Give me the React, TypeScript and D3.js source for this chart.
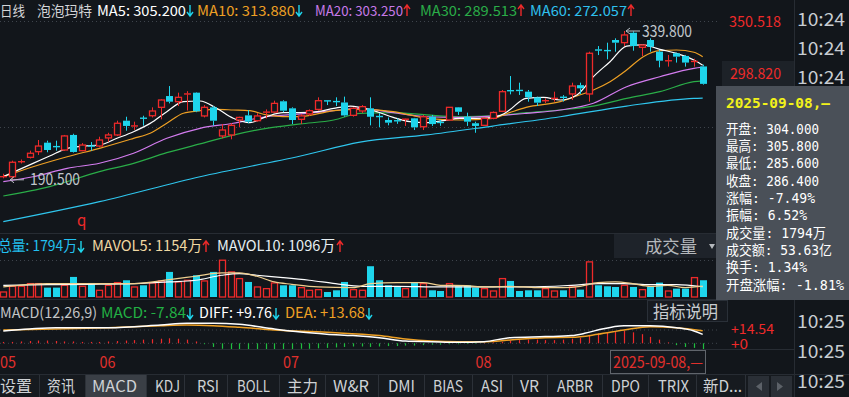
import React from 'react';
import * as d3 from 'd3';

const BG = '#12161b';
const RED = '#ee2a2a';
const CYAN = '#1ed5ec';
const GRID = '#3e444c';
const SEP = '#272c33';

// daily candles, 2025-05-29 .. 2025-09-08
const opens = [192.3, 192.6, 207.5, 212.2, 217.9, 227.0, 223.5, 219.6, 234.8, 218.9, 224.0, 223.6, 231.8, 234.8, 249.2, 243.5, 252.0, 254.2, 262.7, 274.1, 268.4, 275.8, 277.5, 254.0, 262.7, 233.8, 234.8, 249.9, 254.6, 249.2, 257.5, 257.9, 268.8, 261.7, 250.6, 256.0, 260.6, 269.4, 269.0, 267.6, 254.6, 259.0, 261.7, 253.8, 249.9, 249.6, 249.9, 251.6, 243.1, 253.2, 247.8, 249.9, 262.7, 253.2, 246.6, 244.5, 251.6, 258.7, 280.0, 280.5, 278.5, 272.8, 269.0, 271.3, 273.3, 276.2, 285.1, 276.2, 321.0, 320.5, 330.7, 328.0, 338.0, 323.3, 330.7, 318.9, 309.3, 317.3, 314.6, 308.5, 304.0];
const highs = [195.6, 208.8, 210.0, 218.9, 229.7, 229.0, 229.0, 234.8, 236.0, 226.6, 227.6, 233.0, 237.0, 249.2, 253.2, 248.2, 254.2, 262.7, 270.8, 284.2, 277.5, 279.0, 278.0, 265.0, 264.0, 245.8, 246.6, 253.2, 259.9, 256.7, 260.6, 269.4, 269.8, 262.7, 256.0, 260.6, 272.8, 269.6, 272.8, 273.5, 262.7, 265.0, 272.8, 256.7, 252.5, 251.5, 251.8, 252.0, 255.0, 255.0, 250.0, 263.0, 263.0, 257.3, 248.2, 252.0, 258.5, 280.2, 294.3, 287.6, 280.2, 273.5, 271.8, 278.5, 275.0, 287.6, 287.6, 318.9, 324.6, 328.0, 332.4, 339.8, 339.5, 326.0, 332.4, 320.6, 315.6, 318.0, 315.6, 311.8, 305.8];
const lows = [191.0, 190.5, 206.0, 211.0, 214.6, 217.3, 218.9, 218.6, 217.0, 218.4, 218.9, 222.3, 227.9, 233.8, 239.1, 239.8, 244.2, 252.5, 250.6, 266.7, 264.0, 259.5, 257.8, 252.5, 244.2, 231.4, 230.4, 242.5, 246.6, 248.2, 251.5, 257.2, 257.8, 245.8, 245.8, 254.0, 259.3, 265.0, 264.0, 253.3, 253.3, 257.0, 244.5, 242.5, 244.5, 246.0, 243.9, 239.8, 239.8, 243.9, 244.0, 249.5, 255.0, 243.9, 237.0, 243.9, 250.6, 257.9, 275.8, 275.2, 268.4, 264.0, 267.0, 268.4, 268.6, 270.1, 276.2, 268.4, 315.5, 311.2, 318.9, 324.6, 319.9, 314.5, 318.9, 303.1, 303.8, 307.9, 303.8, 303.8, 285.6];
const closes = [193.0, 207.2, 208.0, 216.3, 223.6, 219.6, 222.5, 233.8, 217.6, 224.6, 223.2, 229.7, 234.8, 246.6, 243.9, 244.3, 251.4, 259.0, 270.1, 268.4, 272.8, 276.6, 258.7, 262.7, 249.2, 239.8, 244.5, 252.5, 248.2, 254.0, 258.2, 266.7, 259.3, 249.9, 254.0, 259.3, 269.4, 269.0, 268.0, 254.5, 261.7, 263.4, 253.2, 253.0, 247.2, 248.6, 251.5, 242.5, 253.2, 245.8, 247.0, 262.7, 258.2, 248.2, 243.9, 251.6, 257.5, 278.5, 279.0, 279.0, 272.8, 267.4, 269.8, 272.2, 272.4, 284.2, 281.9, 317.3, 320.2, 319.5, 328.0, 335.8, 324.6, 325.6, 323.9, 309.8, 310.2, 313.9, 307.9, 309.6, 286.4];
// volume, 万股
const volumes = [537, 1146, 1146, 1432, 1432, 1002, 1002, 1253, 2148, 1146, 1504, 716, 1253, 1539, 1790, 1074, 1253, 1504, 1718, 2685, 1611, 1790, 2327, 1718, 2685, 3938, 2685, 1969, 1611, 1074, 895, 1504, 1253, 1253, 1002, 716, 788, 537, 716, 1611, 788, 716, 3294, 1790, 1253, 1074, 895, 1539, 1432, 716, 644, 1432, 1146, 1253, 1002, 895, 644, 1969, 1718, 644, 716, 716, 895, 644, 716, 1074, 788, 3759, 1253, 1146, 1074, 1253, 1074, 788, 1074, 1539, 644, 895, 895, 2076, 1794];

// moving averages: [candle index, value]
const ma5 = [[0, 192.7], [3.4, 206.1], [5.3, 213.5], [7.3, 221.3], [9.2, 223.6], [11, 224.6], [13, 231.4], [14.9, 238.1], [16.8, 246.5], [18.7, 258.3], [20.6, 268.4], [22.5, 269.1], [24.4, 261.7], [26.3, 251.6], [28.2, 247.2], [30.1, 253.3], [32, 257.3], [34, 257.3], [35.9, 258.3], [37.8, 261.7], [39.7, 264], [40.8, 262.7], [42.7, 258.3], [44.6, 252.6], [46.5, 248.2], [48.4, 247.2], [50.3, 249.2], [52.2, 251.6], [54.1, 251.6], [56, 252.6], [57.2, 256], [57.9, 260], [59.8, 271.8], [61.8, 272.8], [63.7, 270.1], [65.6, 275.2], [67.5, 293.7], [69.4, 308.8], [71.3, 324.6], [73.2, 325.7], [75.1, 321.3], [77, 317.2], [79, 310.5], [80, 305.2]];
const ma10 = [[0, 192.6], [3.4, 202.7], [7.3, 212.8], [11, 221.3], [14.9, 231.4], [16.8, 236.5], [18.7, 246.6], [20.6, 256.7], [22.5, 259.3], [24.4, 260.6], [26.3, 260], [28.2, 259.3], [30.1, 255], [32, 253.3], [34, 253.3], [35.9, 256], [37.8, 259.3], [40.8, 260.6], [44.6, 258.3], [46.5, 255], [48.4, 251.6], [52.2, 249.9], [56, 251.6], [57.9, 257.3], [59.8, 262.7], [63.7, 268.4], [65.6, 274.1], [67.5, 280.2], [69.4, 288.6], [71.3, 300.4], [73.2, 313.8], [75.1, 319.9], [77, 320.6], [79, 318.3], [80, 313.88]];
const ma20 = [[0, 187.6], [3.4, 192.6], [7.3, 201.1], [11, 206.2], [14.9, 216.3], [18.7, 231.4], [22.5, 241.5], [26.3, 246.6], [30.1, 253.3], [34, 256], [37.8, 259.3], [40.8, 261.7], [44.6, 257.3], [48.4, 253.2], [52.2, 252.5], [56, 253.9], [59.8, 256.6], [63.7, 260], [67.5, 266.8], [71.3, 283.5], [75.1, 293.6], [79, 302.1], [80, 303.25]];
const ma30 = [[0, 173.1], [5.3, 182.6], [11, 197.7], [14.9, 206.1], [18.7, 216.9], [22.5, 225.7], [26.3, 234.7], [30.1, 241.5], [34, 245.9], [37.8, 249.9], [40.8, 256.6], [44.6, 257.3], [48.4, 255], [52.2, 253.2], [56, 254], [59.8, 257.3], [63.7, 260], [67.5, 264], [71.3, 271.8], [75.1, 278.5], [79, 288.6], [80, 289.513]];
const ma60 = [[0, 147.2], [11, 167.4], [22.5, 192.6], [34, 213.5], [40.8, 227.5], [48.4, 234.8], [56, 243.8], [63.7, 253.2], [71.3, 264], [79, 271.8], [80, 272.057]];

const mavol5 = [[0, 1074], [5, 1432], [10, 1432], [15, 1432], [19, 1862], [22, 2220], [25, 2578], [27, 2578], [29, 2220], [31, 1611], [33, 1360], [36, 1074], [40, 1002], [42, 1432], [45, 1539], [48, 1539], [50, 1253], [53, 1217], [55, 1074], [58, 1146], [61, 1002], [64, 1002], [66, 1146], [68, 1539], [70, 1611], [72, 1432], [74, 1146], [76, 1253], [78, 1002], [80, 1154]];
const mavol10 = [[0, 1253], [5, 1325], [10, 1360], [15, 1432], [19, 1611], [22, 1790], [25, 2327], [27, 2506], [29, 2327], [32, 2076], [35, 1790], [38, 1432], [41, 1146], [45, 1146], [50, 1074], [55, 1074], [60, 1074], [65, 1253], [68, 1432], [71, 1432], [74, 1325], [77, 1325], [80, 1096]];

const diff = [[0, 13.4], [3, 15.6], [6, 17.1], [12, 17.1], [18, 20], [21, 21.8], [24, 21.8], [27, 20.7], [31, 15.6], [34, 12.3], [37, 10], [40, 8.4], [43, 6.2], [46, 2.5], [49, 1.8], [52, 1.1], [55, 1.8], [58, 6.2], [62, 7.3], [65, 8.4], [66.5, 10.9], [68, 14.5], [71, 19.3], [74, 19.3], [77, 17.1], [79, 13.5], [80, 9.76]];
const dea = [[0, 14.5], [6, 15.6], [12, 17.1], [18, 19.3], [21, 20], [24, 19.3], [27, 17.5], [31, 14.5], [37, 12], [43, 8.4], [46, 4.7], [49, 2.5], [52, 1.8], [55, 1.8], [58, 3.6], [62, 6.2], [65, 6.5], [68, 9.8], [71, 14.5], [74, 18.2], [77, 17.1], [80, 13.68]];
const macdHist = [1.5, 1.5, 2, 2.5, 3, 3, 2.5, 2, 2, 1.5, 1.5, 1.5, 2, 2.5, 3, 3.5, 4, 4.5, 5, 5.5, 5, 4, 2, -1, -4, -6, -7, -8, -8, -8, -7.5, -7, -7, -6.5, -6, -6, -5.5, -5, -4.5, -4, -3.5, -3.5, -4, -3.5, -3, -3, -2.5, -2.5, -2, -1.5, -1.5, -1, -1, -0.8, -0.5, 0.5, 1, 1.5, 3, 3.5, 4, 4, 3.5, 3.5, 4, 5, 6, 9, 11, 12, 13, 13.5, 12, 10, 7, 4, 1, -2, -4, -5, -7.84];

const monthTicks = [{ i: 0, label: '05' }, { i: 11, label: '06' }, { i: 32, label: '07' }, { i: 54, label: '08' }];
const tabs = [
  { t: '设置', x: 0, w: 32 }, { t: '资讯', x: 47, w: 28 }, { t: 'MACD', x: 92, w: 45 }, { t: 'KDJ', x: 155, w: 25 },
  { t: 'RSI', x: 197, w: 22 }, { t: 'BOLL', x: 237, w: 33 }, { t: '主力', x: 287, w: 31 }, { t: 'W&R', x: 333, w: 36 },
  { t: 'DMI', x: 388, w: 27 }, { t: 'BIAS', x: 433, w: 30 }, { t: 'ASI', x: 481, w: 22 }, { t: 'VR', x: 520, w: 19 },
  { t: 'ARBR', x: 557, w: 36 }, { t: 'DPO', x: 611, w: 29 }, { t: 'TRIX', x: 658, w: 31 }, { t: '新D...', x: 703, w: 39 },
];
const tabDividers = [39, 85, 146, 184, 227, 279, 325, 378, 424, 472, 512, 547, 602, 648, 696, 745];
const tipRows = [
  { t: '开盘: 304.000', w: 93 }, { t: '最高: 305.800', w: 93 }, { t: '最低: 285.600', w: 93 }, { t: '收盘: 286.400', w: 93 },
  { t: '涨幅: -7.49%', w: 89 }, { t: '振幅: 6.52%', w: 81 }, { t: '成交量: 1794万', w: 100 }, { t: '成交额: 53.63亿', w: 106 },
  { t: '换手: 1.34%', w: 81 }, { t: '开盘涨幅: -1.81%', w: 118 },
];

const FONT = '"Noto Sans CJK SC", "Noto Sans", sans-serif';
const MONO = '"DejaVu Sans Mono", "Noto Sans CJK SC", monospace';

function Txt({ x, y, w, fill, size = 14.5, children, family = FONT, weight = 'normal', anchor = 'start' }: any) {
  return (
    <text x={x} y={y} fill={fill} fontSize={size} fontFamily={family} fontWeight={weight} textAnchor={anchor}
      textLength={w} lengthAdjust={w ? 'spacingAndGlyphs' : undefined}>{children}</text>
  );
}

// thin trend arrow like the terminal's ↑ / ↓
function Arrow({ x, y, up, color }: any) {
  const top = y - 11, bot = y;
  const cx = x + 3;
  return up
    ? <path d={`M${cx},${bot}V${top + 1}M${cx - 3},${top + 4}L${cx},${top}L${cx + 3},${top + 4}`} stroke={color} strokeWidth={1.4} fill="none" />
    : <path d={`M${cx},${top}V${bot - 1}M${cx - 3},${bot - 4}L${cx},${bot}L${cx + 3},${bot - 4}`} stroke={color} strokeWidth={1.4} fill="none" />;
}

export default function App() {
  const x = d3.scaleLinear().domain([0, 80]).range([3.3, 702.7]);
  const yP = d3.scaleLinear().domain([190.5, 339.8]).range([178.8, 31]);
  const yV = d3.scaleLinear().domain([0, 3960]).range([297, 260]);
  const yM = d3.scaleLinear().domain([0, 14.54]).range([343.3, 330]);

  const priceLine = d3.line<number[]>().x(d => x(d[0])).y(d => yP(d[1])).curve(d3.curveMonotoneX);
  const volLine = d3.line<number[]>().x(d => x(d[0])).y(d => yV(d[1])).curve(d3.curveMonotoneX);
  const macdLine = d3.line<number[]>().x(d => x(d[0])).y(d => yM(d[1])).curve(d3.curveMonotoneX);

  const maSeries = [
    { d: ma60, c: '#2fc6ee' }, { d: ma30, c: '#2aad48' }, { d: ma20, c: '#d47cf0' },
    { d: ma10, c: '#eea024' }, { d: ma5, c: '#ffffff' },
  ];

  const hiIdx = d3.maxIndex(highs);
  const loIdx = d3.minIndex(lows);
  const HY = 15.5; // header baseline

  return (
    <div>
      <style>{'body{margin:0;background:' + BG + '}'}</style>
      <svg width={849} height={397} style={{ display: 'block', background: BG }}>
        <defs>
          <clipPath id="kclip"><rect x={0} y={20} width={720} height={213} /></clipPath>
          <clipPath id="mclip"><rect x={0} y={321} width={720} height={28} /></clipPath>
        </defs>

        {/* frame lines */}
        <line x1={0} x2={795} y1={233.5} y2={233.5} stroke={SEP} />
        <line x1={0} x2={795} y1={299.5} y2={299.5} stroke={SEP} />
        <line x1={0} x2={795} y1={349.5} y2={349.5} stroke={SEP} />
        <line x1={0} x2={849} y1={374.5} y2={374.5} stroke={SEP} />
        <line x1={794.5} x2={794.5} y1={0} y2={397} stroke={SEP} />

        {/* dotted grid */}
        {[21.5, 127.5].map(v => <line key={v} x1={0} x2={720} y1={v} y2={v} stroke={GRID} strokeDasharray="1 3" />)}
        <line x1={0} x2={720} y1={260.5} y2={260.5} stroke={GRID} strokeDasharray="1 3" />
        <line x1={0} x2={720} y1={yM(14.54)} y2={yM(14.54)} stroke={GRID} strokeDasharray="1 3" />
        <line x1={0} x2={720} y1={yM(0)} y2={yM(0)} stroke={GRID} strokeDasharray="1 3" />

        {/* header */}
        <Txt x={0} y={HY} w={25} size={14} fill="#d2d4d6">日线</Txt>
        <Txt x={37} y={HY} w={55} size={14} fill="#d2d4d6">泡泡玛特</Txt>
        <Txt x={97} y={HY} w={89} size={14} fill="#ffffff">MA5: 305.200</Txt>
        <Arrow x={187} y={16} up={false} color={CYAN} />
        <Txt x={197} y={HY} w={98} size={14} fill="#eea024">MA10: 313.880</Txt>
        <Arrow x={296} y={16} up={false} color={CYAN} />
        <Txt x={315} y={HY} w={88} size={14} fill="#c87ae8">MA20: 303.250</Txt>
        <Arrow x={404} y={16} up={true} color={RED} />
        <Txt x={420} y={HY} w={97} size={14} fill="#2aad48">MA30: 289.513</Txt>
        <Arrow x={518} y={16} up={true} color={RED} />
        <Txt x={530} y={HY} w={97} size={14} fill="#2fc0ee">MA60: 272.057</Txt>
        <Arrow x={628} y={16} up={true} color={RED} />

        {/* candles + MAs */}
        <g clipPath="url(#kclip)">
          {maSeries.map((s, k) => <path key={k} d={priceLine(s.d as any) || ''} fill="none" stroke={s.c} strokeWidth={1.2} />)}
          {closes.map((c, i) => {
            const o = opens[i];
            const up = c >= o;
            const col = up ? RED : CYAN;
            const cx = Math.round(x(i)) + 0.5;
            const top = yP(Math.max(o, c));
            const bot = yP(Math.min(o, c));
            const h = bot - top;
            return (
              <g key={i}>
                <line x1={cx} x2={cx} y1={yP(highs[i])} y2={top} stroke={col} />
                <line x1={cx} x2={cx} y1={bot} y2={yP(lows[i])} stroke={col} />
                {h < 1.6
                  ? <line x1={cx - 3.5} x2={cx + 3.5} y1={(top + bot) / 2} y2={(top + bot) / 2} stroke={col} strokeWidth={1.4} />
                  : up
                    ? <rect x={cx - 3} y={top} width={6} height={h} fill={BG} stroke={col} strokeWidth={1.3} />
                    : <rect x={cx - 3.5} y={top} width={7} height={h} fill={col} />}
              </g>
            );
          })}
          <Txt x={77} y={226} fill={RED} size={15}>q</Txt>
        </g>

        {/* max / min annotations */}
        <g stroke="#b8bec4" fill="none">
          <line x1={x(hiIdx) + 2} x2={x(hiIdx) + 16} y1={yP(highs[hiIdx])} y2={yP(highs[hiIdx])} />
          <path d={`M${x(hiIdx) + 6},${yP(highs[hiIdx]) - 3}L${x(hiIdx) + 2},${yP(highs[hiIdx])}L${x(hiIdx) + 6},${yP(highs[hiIdx]) + 3}`} />
          <line x1={x(loIdx) - 2} x2={x(loIdx) + 12} y1={yP(lows[loIdx]) + 1} y2={yP(lows[loIdx]) + 1} />
          <path d={`M${x(loIdx) + 2},${yP(lows[loIdx]) - 2}L${x(loIdx) - 2},${yP(lows[loIdx]) + 1}L${x(loIdx) + 2},${yP(lows[loIdx]) + 4}`} />
        </g>
        <Txt x={x(hiIdx) + 18} y={yP(highs[hiIdx]) + 6} w={50} fill="#c0c6cc" size={16}>{highs[hiIdx].toFixed(3)}</Txt>
        <Txt x={x(loIdx) + 18} y={yP(lows[loIdx]) + 6} w={50} fill="#c0c6cc" size={16}>{lows[loIdx].toFixed(3)}</Txt>

        {/* price axis */}
        <Txt x={729} y={27} w={52} fill={RED} size={15}>350.518</Txt>
        <rect x={722} y={61} width={72} height={25} fill="#1d2228" />
        <Txt x={730} y={79} w={51} fill={RED} size={15}>298.820</Txt>

        {/* volume header */}
        <Txt x={-2} y={251} w={79} fill="#22c0f0">总量: 1794万</Txt>
        <Arrow x={78} y={252} up={false} color={CYAN} />
        <Txt x={92} y={251} w={110} fill="#f0d8a2">MAVOL5: 1154万</Txt>
        <Arrow x={203} y={252} up={true} color={RED} />
        <Txt x={217} y={251} w={118} fill="#e6eef2">MAVOL10: 1096万</Txt>
        <Arrow x={337} y={252} up={true} color={RED} />
        <rect x={614} y={234} width={106} height={24} fill="#1e232a" />
        <Txt x={645} y={253} w={52} fill="#b4b8bc" size={17}>成交量</Txt>
        <path d="M709,244L715,244L712,249Z" fill="#b4b8bc" />

        {/* volume bars */}
        {volumes.map((v, i) => {
          const up = closes[i] >= opens[i];
          const cx = Math.round(x(i)) + 0.5;
          return up
            ? <rect key={i} x={cx - 3} y={yV(v)} width={6} height={yV(0) - yV(v)} fill="none" stroke={RED} strokeWidth={1.3} />
            : <rect key={i} x={cx - 3.5} y={yV(v)} width={7} height={yV(0) - yV(v)} fill={CYAN} />;
        })}
        <path d={volLine(mavol10 as any) || ''} fill="none" stroke="#ffffff" strokeWidth={1.2} />
        <path d={volLine(mavol5 as any) || ''} fill="none" stroke="#f0d090" strokeWidth={1.2} />

        {/* macd header */}
        <Txt x={0} y={318} w={97} fill="#c2c4c6">MACD(12,26,9)</Txt>
        <Txt x={101} y={318} w={85} fill="#22b044">MACD: -7.84</Txt>
        <Arrow x={187} y={319} up={false} color={CYAN} />
        <Txt x={199} y={318} w={73} fill="#ffffff">DIFF: +9.76</Txt>
        <Arrow x={273} y={319} up={false} color={CYAN} />
        <Txt x={285} y={318} w={80} fill="#eea024">DEA: +13.68</Txt>
        <Arrow x={366} y={319} up={false} color={CYAN} />
        <rect x={647.5} y={300.5} width={80} height={21} fill="#161a20" stroke="#2a3038" />
        <Txt x={653} y={318} w={65} fill="#c8ccd0" size={17}>指标说明</Txt>

        {/* macd */}
        <g clipPath="url(#mclip)">
          {macdHist.map((v, i) => {
            const cx = Math.round(x(i)) + 0.5;
            return <line key={i} x1={cx} x2={cx} y1={yM(0)} y2={yM(v)} stroke={v >= 0 ? RED : '#1fbf3f'} strokeWidth={1.2} />;
          })}
          <path d={macdLine(dea as any) || ''} fill="none" stroke="#eea024" strokeWidth={1.5} />
          <path d={macdLine(diff as any) || ''} fill="none" stroke="#ffffff" strokeWidth={1.5} />
        </g>
        <Txt x={731} y={334} w={43} fill={RED} size={13}>+14.54</Txt>
        <Txt x={731} y={348.5} w={17} fill={RED} size={13}>+0</Txt>

        {/* date axis */}
        {monthTicks.map(m => (
          <Txt key={m.label} x={m.i === 0 ? 0 : x(m.i)} y={368} w={16} fill="#e0302c" size={16}>{m.label}</Txt>
        ))}
        <rect x={610.5} y={350.5} width={95} height={23} fill="#15191f" stroke="#60656c" />
        <Txt x={613} y={368} w={90} fill="#e0302c" size={16}>2025-09-08,—</Txt>

        {/* tab bar */}
        <rect x={0} y={375} width={794} height={22} fill="#161a1f" />
        <rect x={86} y={375} width={60} height={22} fill="#3a3f46" />
        {tabDividers.map(d => <line key={d} x1={d + 0.5} x2={d + 0.5} y1={375} y2={397} stroke="#2c3138" />)}
        {tabs.map(t => <Txt key={t.t} x={t.x} y={392} w={t.w} fill="#cfd2d5" size={16}>{t.t}</Txt>)}
        <rect x={748} y={376} width={21} height={21} fill="#2a2f36" />
        <rect x={771} y={376} width={21} height={21} fill="#2a2f36" />
        <path d="M762,382L756,386.5L762,391Z" fill="#5c6168" />
        <path d="M777,382L783,386.5L777,391Z" fill="#5c6168" />

        {/* time column */}
        {[20, 49, 78].map(v => <Txt key={v} x={797} y={v + 6} w={48} fill="#c8cdd2" size={18}>10:24</Txt>)}
        {[322, 352, 382].map(v => <Txt key={v} x={797} y={v + 6} w={48} fill="#c8cdd2" size={18}>10:25</Txt>)}

        {/* tooltip */}
        <rect x={716} y={86} width={140} height={214} fill="#4a5058" />
        <Txt x={726} y={108} w={104} fill="#f2f21a" size={14} family={MONO} weight="bold">2025-09-08,—</Txt>
        {tipRows.map((r, k) => (
          <Txt key={k} x={726} y={133.5 + k * 17.35} w={r.w} fill="#ffffff" size={13.5} family={MONO}>{r.t}</Txt>
        ))}
      </svg>
    </div>
  );
}
